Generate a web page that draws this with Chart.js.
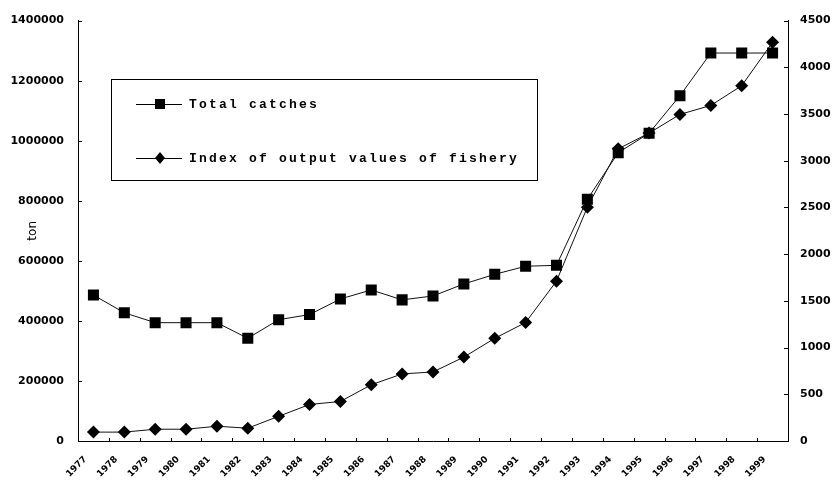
<!DOCTYPE html>
<html>
<head>
<meta charset="utf-8">
<script src="https://cdn.jsdelivr.net/npm/chart.js@4"></script>
<style>
html, body { margin: 0; padding: 0; background: #fff; }
#wrap { width: 833px; height: 486px; }
</style>
</head>
<body>
<div id="wrap"><canvas id="myChart"></canvas></div>
<script>
const years = ['1977', '1978', '1979', '1980', '1981', '1982', '1983', '1984', '1985', '1986', '1987', '1988',
    '1989', '1990', '1991', '1992', '1993', '1994', '1995', '1996', '1997', '1998', '1999'];

// ton
const totalCatches = [486000, 427000, 394000, 394000, 394000, 342000, 404000, 421000, 473000, 503000, 470000, 483000,
    523000, 555000, 582000, 585000, 805000, 960000, 1025000, 1150000, 1292000, 1292000, 1292000];

const outputIndex = [95, 95, 126, 126, 158, 137, 264, 391, 423, 602, 718, 739,
    898, 1099, 1268, 1711, 2503, 3127, 3296, 3496, 3592, 3803, 4268];

const leftMax = 1400000, leftStep = 200000;
const rightMax = 4500, rightStep = 500;

const tickFont = { family: 'DejaVu Sans', weight: 'bold', size: 11 };

// inside tick marks + boxed legend
const frame = {
    id: 'frame',
    afterDraw(chart) {
        const ctx = chart.ctx;
        const a = chart.chartArea;
        const x = chart.scales.x, yl = chart.scales.y, yr = chart.scales.y1;
        ctx.save();
        ctx.strokeStyle = '#000';
        ctx.lineWidth = 1;
        ctx.beginPath();
        yl.ticks.forEach(t => {
            const p = Math.round(yl.getPixelForValue(t.value)) + 0.5;
            ctx.moveTo(a.left, p); ctx.lineTo(a.left + 4, p);
        });
        yr.ticks.forEach(t => {
            const p = Math.round(yr.getPixelForValue(t.value)) + 0.5;
            ctx.moveTo(a.right, p); ctx.lineTo(a.right - 4, p);
        });
        for (let i = 1; i < years.length; i++) {
            const p = Math.round((x.getPixelForValue(i - 1) + x.getPixelForValue(i)) / 2) + 0.5;
            ctx.moveTo(p, a.bottom); ctx.lineTo(p, a.bottom - 3);
        }
        ctx.stroke();

        // legend box
        ctx.strokeRect(111.5, 79.5, 426, 101);
        const rows = [
            { y: 104, label: chart.data.datasets[0].label, style: 'rect' },
            { y: 158, label: chart.data.datasets[1].label, style: 'rectRot' }
        ];
        ctx.fillStyle = '#000';
        ctx.font = 'bold 13px "Liberation Mono"';
        ctx.letterSpacing = '2.2px';
        ctx.textBaseline = 'middle';
        rows.forEach(r => {
            ctx.beginPath();
            ctx.moveTo(136, r.y + 0.5); ctx.lineTo(182, r.y + 0.5);
            ctx.stroke();
            ctx.beginPath();
            if (r.style === 'rect') {
                ctx.rect(155, r.y - 5, 10, 10);
            } else {
                ctx.moveTo(160, r.y - 6); ctx.lineTo(165, r.y); ctx.lineTo(160, r.y + 6); ctx.lineTo(155, r.y);
                ctx.closePath();
            }
            ctx.fill();
            ctx.fillText(r.label, 189, r.y + 1);
        });
        ctx.restore();
    }
};

const data = {
    labels: years,
    datasets: [{
        label: 'Total catches',
        data: totalCatches,
        yAxisID: 'y',
        borderColor: '#111',
        backgroundColor: '#000',
        borderWidth: 1,
        pointStyle: 'rect',
        pointRadius: 7.8,
        pointBorderWidth: 0,
        tension: 0
    }, {
        label: 'Index of output values of fishery',
        data: outputIndex,
        yAxisID: 'y1',
        borderColor: '#111',
        backgroundColor: '#000',
        borderWidth: 1,
        pointStyle: 'rectRot',
        pointRadius: 6.5,
        pointBorderWidth: 0,
        tension: 0
    }]
};

const config = {
    type: 'line',
    data: data,
    options: {
        responsive: true,
        maintainAspectRatio: false,
        animation: false,
        layout: { padding: { top: 15, left: 0, right: 0, bottom: 0 } },
        plugins: {
            legend: { display: false },
            tooltip: { enabled: false }
        },
        scales: {
            x: {
                offset: true,
                grid: { display: true, drawOnChartArea: false, drawTicks: false },
                border: { display: true, color: '#000', width: 1 },
                ticks: {
                    color: '#000',
                    font: { family: 'DejaVu Sans', weight: 'bold', size: 9 },
                    minRotation: 45,
                    maxRotation: 45,
                    autoSkip: false,
                    padding: 13,
                    labelOffset: -8
                },
                afterFit(s) { s.height = 45; }
            },
            y: {
                position: 'left',
                min: 0,
                max: leftMax,
                grid: { display: true, drawOnChartArea: false, drawTicks: false },
                border: { display: true, color: '#000', width: 1 },
                ticks: {
                    stepSize: leftStep,
                    color: '#000',
                    font: tickFont,
                    padding: 14,
                    callback: v => String(v)
                },
                title: {
                    display: true,
                    text: 'ton',
                    color: '#000',
                    font: { family: 'DejaVu Sans', size: 12 },
                    padding: { top: 26, bottom: 0 }
                },
                afterFit(s) { s.width = 78; }
            },
            y1: {
                position: 'right',
                min: 0,
                max: rightMax,
                grid: { display: true, drawOnChartArea: false, drawTicks: false },
                border: { display: true, color: '#000', width: 1 },
                ticks: {
                    stepSize: rightStep,
                    color: '#000',
                    font: tickFont,
                    padding: 12,
                    callback: v => String(v)
                },
                afterFit(s) { s.width = 45; }
            }
        }
    },
    plugins: [frame]
};

const myChart = new Chart(
    document.getElementById('myChart'),
    config
);
</script>
</body>
</html>
